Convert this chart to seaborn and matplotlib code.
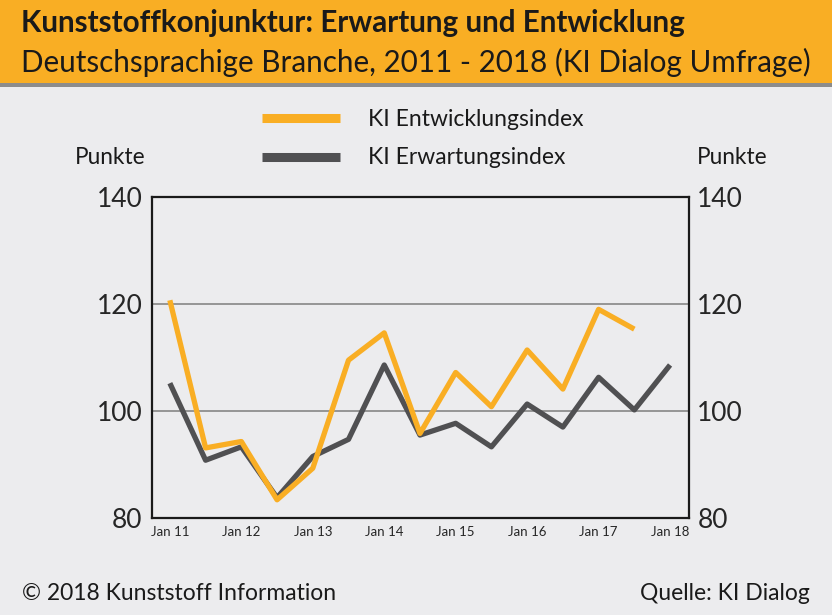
import matplotlib
matplotlib.use("Agg")
import matplotlib.pyplot as plt
import matplotlib.patches as mpatches
import pandas as pd
import seaborn as sns

# ── Data (half-yearly survey, Jan 11 .. Jan 18) ──
periods = ["Jan 11", "Jul 11", "Jan 12", "Jul 12", "Jan 13", "Jul 13", "Jan 14", "Jul 14",
           "Jan 15", "Jul 15", "Jan 16", "Jul 16", "Jan 17", "Jul 17", "Jan 18"]
entwicklung = [120.7, 93.1, 94.3, 83.4, 89.3, 109.5, 114.6, 95.8,
               107.2, 100.8, 111.4, 104.1, 119.0, 115.3, None]
erwartung = [105.2, 90.8, 93.3, 83.8, 91.5, 94.7, 108.6, 95.5,
             97.7, 93.3, 101.3, 97.0, 106.3, 100.2, 108.6]
x_labels = ["Jan 11", "Jan 12", "Jan 13", "Jan 14", "Jan 15", "Jan 16", "Jan 17", "Jan 18"]
y_ticks = [80, 100, 120, 140]

ORANGE = "#F9AE24"
DARK = "#505052"
BG = "#ECECEE"
TXT = "#1a1a1a"
FONT = "Lato"

df = pd.DataFrame({
    "pos": list(range(len(periods))) * 2,
    "wert": entwicklung + erwartung,
    "reihe": ["KI Entwicklungsindex"] * len(periods) + ["KI Erwartungsindex"] * len(periods),
}).dropna()

sns.set_theme(style="white")
plt.rcParams["font.family"] = [FONT, "DejaVu Sans"]

fig = plt.figure(figsize=(8.32, 6.15), dpi=100, facecolor=BG)

# ── header band ──
fig.patches.append(mpatches.Rectangle((0, 1 - 83 / 615), 1, 83 / 615, transform=fig.transFigure,
                                      facecolor=ORANGE, edgecolor="none", zorder=0))
fig.patches.append(mpatches.Rectangle((0, 1 - 87 / 615), 1, 4 / 615, transform=fig.transFigure,
                                      facecolor="#8C8C8C", edgecolor="none", zorder=0))
fig.text(21 / 832, 1 - 23 / 615, "Kunststoffkonjunktur: Erwartung und Entwicklung",
         fontsize=21.3, fontweight="bold", color=TXT, va="center", ha="left")
fig.text(21 / 832, 1 - 62 / 615, "Deutschsprachige Branche, 2011 - 2018 (KI Dialog Umfrage)",
         fontsize=21.3, color=TXT, va="center", ha="left")

# ── plot area ──
ax = fig.add_axes([152 / 832, 1 - 518 / 615, (689 - 152) / 832, (518 - 197) / 615])
ax.set_facecolor(BG)

for y in [100, 120]:
    ax.axhline(y, color="#8E8E8E", lw=1.3, zorder=1)

sns.lineplot(data=df, x="pos", y="wert", hue="reihe",
             palette={"KI Entwicklungsindex": ORANGE, "KI Erwartungsindex": DARK},
             hue_order=["KI Erwartungsindex", "KI Entwicklungsindex"],
             lw=3.8, ax=ax, legend=False, zorder=3)
for ln in ax.lines[2:]:
    ln.set_solid_capstyle("butt")

ax.set_xlim(-0.5, 14.53)
ax.set_ylim(80, 140)
ax.set_xlabel("")
ax.set_ylabel("")
ax.set_xticks(range(len(periods)))
ax.set_xticklabels([p if p in x_labels else "" for p in periods], fontsize=9.5)
ax.set_yticks(y_ticks)
ax.set_yticklabels([str(v) for v in y_ticks], fontsize=19)
ax.tick_params(axis="x", direction="in", length=7, width=1.3, color="#222222", pad=6)
ax.tick_params(axis="y", length=0, pad=7)
for s in ax.spines.values():
    s.set_color(TXT)
    s.set_linewidth(1.6)

ax2 = ax.twinx()
ax2.set_ylim(80, 140)
ax2.set_yticks(y_ticks)
ax2.set_yticklabels([str(v) for v in y_ticks], fontsize=19)
ax2.tick_params(axis="y", length=0, pad=6)
for s in ax2.spines.values():
    s.set_visible(False)

# ── axis unit labels ──
fig.text(75 / 832, 1 - 158 / 615, "Punkte", fontsize=16.3, ha="left", va="center", color=TXT)
fig.text(697 / 832, 1 - 158 / 615, "Punkte", fontsize=16.3, ha="left", va="center", color=TXT)

# ── legend drawn as line samples ──
for yy, col, lab in [(118, ORANGE, "KI Entwicklungsindex"), (157, DARK, "KI Erwartungsindex")]:
    fig.lines.append(plt.Line2D([262 / 832, 340 / 832], [1 - yy / 615] * 2,
                                transform=fig.transFigure, color=col, lw=6.5,
                                solid_capstyle="butt"))
    fig.text(368 / 832, 1 - (yy + 1) / 615, lab, fontsize=16.5, ha="left", va="center",
             color=TXT)

# ── footer ──
fig.text(22 / 832, 1 - 594 / 615, "\u00a9 2018 Kunststoff Information", fontsize=16.5,
         ha="left", va="center", color=TXT)
fig.text(810 / 832, 1 - 594 / 615, "Quelle: KI Dialog", fontsize=16.5,
         ha="right", va="center", color=TXT)

fig.savefig("out.png", dpi=100, facecolor=BG)
